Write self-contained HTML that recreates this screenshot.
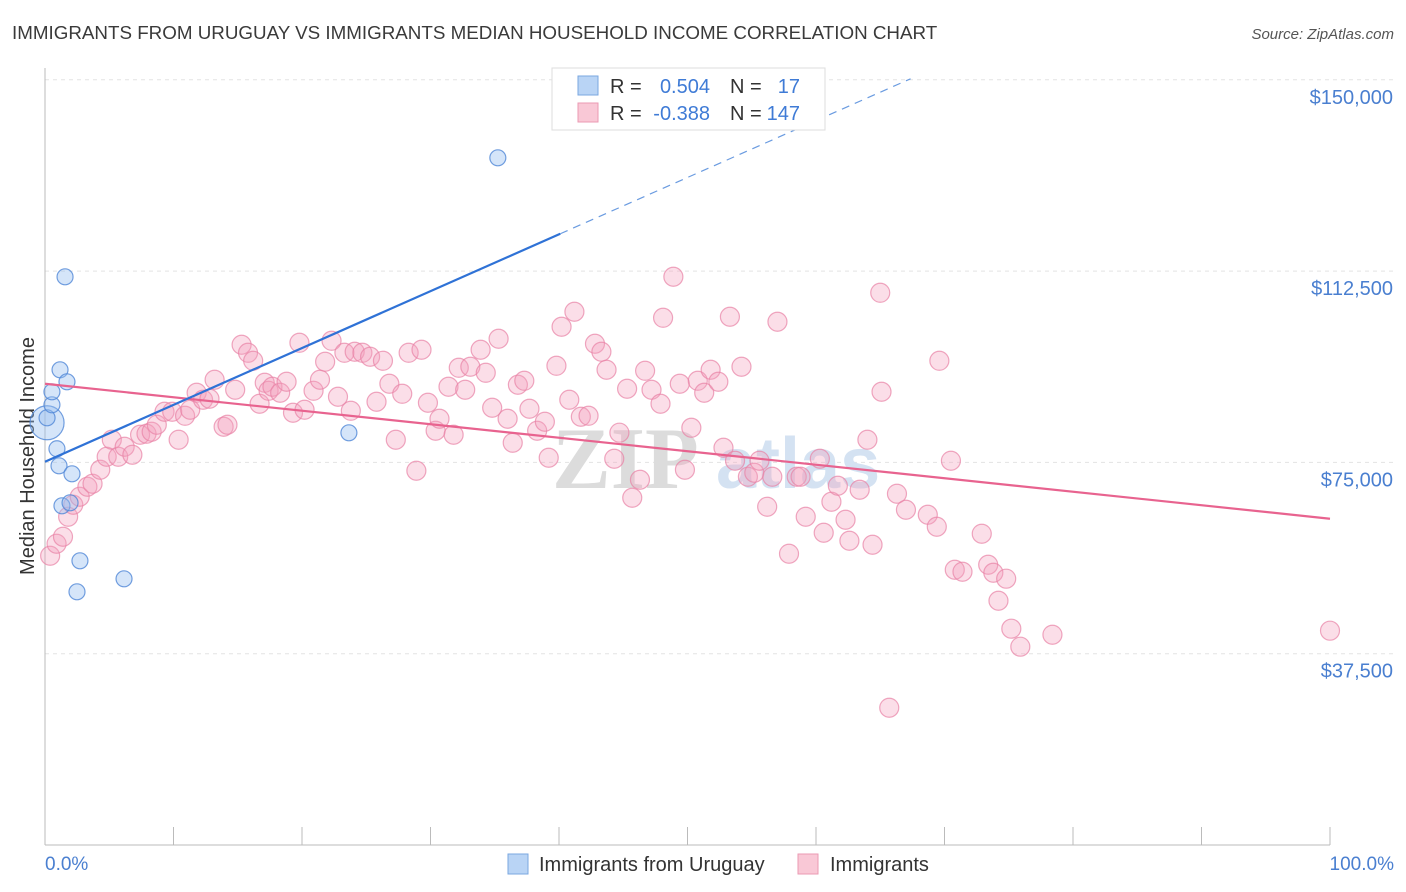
<!DOCTYPE html>
<html><head><meta charset="utf-8"><style>
body{margin:0;background:#fff;font-family:"Liberation Sans",sans-serif}
svg{display:block}
</style></head><body>
<svg id="chart" width="1406" height="892" viewBox="0 0 1406 892">
<text x="12" y="39" font-size="18.8" fill="#3a3a3a">IMMIGRANTS FROM URUGUAY VS IMMIGRANTS MEDIAN HOUSEHOLD INCOME CORRELATION CHART</text>
<text x="1394" y="39" font-size="15" fill="#555" font-style="italic" text-anchor="end">Source: ZipAtlas.com</text>
<g id="grid"></g>
<g><text x="552" y="488" font-size="88" font-family="Liberation Serif,serif" fill="#dcdcdc" font-weight="bold">ZIP</text><text x="716" y="488" font-size="72" fill="#d4e2f2" font-weight="bold">atlas</text></g>
<line x1="45" y1="68" x2="45" y2="845" stroke="#bbb"/>
<line x1="45" y1="845" x2="1330" y2="845" stroke="#bbb"/>
<g id="xticks"></g>
<g id="ylabels"></g>
<text x="45" y="870" font-size="19" fill="#4a7fd0">0.0%</text>
<text x="1394" y="870" font-size="19" fill="#4a7fd0" text-anchor="end">100.0%</text>
<text transform="translate(34,456) rotate(-90)" font-size="20" fill="#333" text-anchor="middle">Median Household Income</text>
<g id="pink"></g>
<g id="blue"></g>
<g id="lines"></g>
<g>
<rect x="552" y="68" width="273" height="62" fill="#fff" stroke="#ddd"/>
<rect x="578" y="76" width="20" height="19" fill="#b9d4f5" stroke="#7aa7e0"/>
<rect x="578" y="103" width="20" height="19" fill="#f9c8d6" stroke="#eb9ab3"/>
<text x="610" y="93" font-size="20" fill="#333">R =</text><text x="710" y="93" font-size="20" fill="#3f7bd6" text-anchor="end">0.504</text>
<text x="730" y="93" font-size="20" fill="#333">N =</text><text x="800" y="93" font-size="20" fill="#3f7bd6" text-anchor="end">17</text>
<text x="610" y="120" font-size="20" fill="#333">R =</text><text x="710" y="120" font-size="20" fill="#3f7bd6" text-anchor="end">-0.388</text>
<text x="730" y="120" font-size="20" fill="#333">N =</text><text x="800" y="120" font-size="20" fill="#3f7bd6" text-anchor="end">147</text>
</g>
<g>
<rect x="508" y="854" width="20" height="20" fill="#b9d4f5" stroke="#7aa7e0"/>
<text x="539" y="871" font-size="20" fill="#333">Immigrants from Uruguay</text>
<rect x="798" y="854" width="20" height="20" fill="#f9c8d6" stroke="#eb9ab3"/>
<text x="830" y="871" font-size="20" fill="#333">Immigrants</text>
</g>
</svg>
<script>
const yTicks=[37500,75000,112500,150000];
const yTickLabels=["$37,500","$75,000","$112,500","$150,000"];
const xTickValues=[0,10,20,30,40,50,60,70,80,90,100];
const blueX=[0.16,0.16,0.54,0.54,1.17,1.71,1.56,0.93,1.09,2.10,1.32,1.95,2.72,2.49,6.15,23.65,35.24];
const blueY=[82770,83740,86290,88840,93150,90800,111380,77670,74330,72760,66490,67080,55710,49630,52180,80800,134710];
const blueR=[17,8,8,8,8,8,8,8,8,8,8,8,8,8,8,8,8];
const pinkX=[0.4,0.9,1.4,1.8,2.2,2.7,3.3,3.7,4.3,4.8,5.2,5.7,6.2,6.8,7.4,7.9,8.3,8.7,9.3,9.9,10.4,10.9,11.3,11.8,12.3,12.8,13.2,13.9,14.2,14.8,15.3,15.8,16.2,16.7,17.1,17.4,17.7,18.3,18.8,19.3,19.8,20.2,20.9,21.4,21.8,22.3,22.8,23.3,23.8,24.1,24.7,25.3,25.8,26.3,26.8,27.3,27.8,28.3,28.9,29.3,29.8,30.4,30.7,31.4,31.8,32.2,32.7,33.1,33.9,34.3,34.8,35.3,36.0,36.4,36.8,37.3,37.7,38.3,38.9,39.2,39.8,40.2,40.8,41.2,41.7,42.3,42.8,43.3,43.7,44.3,44.7,45.3,45.7,46.3,46.7,47.2,47.9,48.1,48.9,49.4,49.8,50.3,50.8,51.3,51.8,52.4,52.8,53.3,53.7,54.2,54.7,55.2,55.6,56.2,56.6,57.0,57.9,58.5,58.8,59.2,60.3,60.6,61.2,61.7,62.3,62.6,63.4,64.0,64.4,65.0,65.1,65.7,66.3,67.0,68.7,69.4,69.6,70.5,70.8,71.4,72.9,73.4,73.8,74.2,74.8,75.2,75.9,78.4,100.0];
const pinkY=[56700,59060,60430,64350,66700,68270,70230,70820,73560,76110,79440,76110,78070,76500,80420,80620,81010,82380,84930,84930,79440,84140,85320,88650,87280,87480,91200,81990,82380,89240,98060,96490,94920,86500,90610,89040,89830,88650,90810,84730,98450,85320,89040,91200,94730,98840,87870,96490,85120,96690,96490,95710,86890,94920,90420,79440,88450,96490,73360,97080,86690,81210,83560,89830,80420,93550,89240,93750,97080,92570,85710,99240,83560,78850,90220,91000,85520,81210,82970,75910,93940,101590,87280,104530,83950,84140,98260,96690,93160,75720,80820,89440,68070,71600,92960,89240,86500,103350,111390,90420,73560,81790,91000,88650,93160,90810,77870,103550,75330,93750,72190,72970,75330,66310,72190,102570,57100,72190,72190,64350,75720,61210,67290,70420,63760,59640,69640,79440,58860,108250,88850,26910,68860,65720,64740,62390,94920,75330,53960,53570,61020,54940,53370,47880,52200,42400,38870,41220,42010];
const pinkTrend=[90420,63960];
const blueTrend=[75130,119820,40.1];

const NS="http://www.w3.org/2000/svg";
const xs=v=>45+v*12.85;
const ys=v=>845-v*(191.3/37500);
function mk(tag,attrs,parent){const e=document.createElementNS(NS,tag);for(const k in attrs)e.setAttribute(k,attrs[k]);parent.appendChild(e);return e;}
const grid=document.getElementById('grid'),yl=document.getElementById('ylabels'),xt=document.getElementById('xticks');
yTicks.forEach((t,i)=>{
  const g=mk('line',{x1:45,x2:1394,y1:ys(t),y2:ys(t),stroke:'#e3e3e3','stroke-dasharray':'4,4'},grid);
  
  
  const tx=mk('text',{x:1393,y:ys(t)+24,'font-size':20,fill:'#4a7fd0','text-anchor':'end'},yl);
  tx.textContent=yTickLabels[i];
  
  
});
xTickValues.forEach(v=>{
  const l=mk('line',{x1:xs(v),x2:xs(v),y1:827,y2:845,stroke:'#bbb'},xt);
  
  
});
const pg=document.getElementById('pink');
pinkX.forEach((x,i)=>{
  const c=mk('circle',{cx:xs(x),cy:ys(pinkY[i]),r:9.5,fill:'rgba(244,160,188,0.35)',stroke:'rgba(232,130,165,0.7)','stroke-width':1.2},pg);
  
  
});
const bg=document.getElementById('blue');
blueX.forEach((x,i)=>{
  const c=mk('circle',{cx:xs(x),cy:ys(blueY[i]),r:blueR[i],fill:'rgba(150,190,240,0.4)',stroke:'rgba(80,135,215,0.8)','stroke-width':1.2},bg);
  
  
});
const lg=document.getElementById('lines');
const pl=mk('line',{x1:xs(0),y1:ys(pinkTrend[0]),x2:xs(100),y2:ys(pinkTrend[1]),stroke:'#e8638f','stroke-width':2.2},lg);


const slope=(blueTrend[1]-blueTrend[0])/blueTrend[2];
const xEnd=(150200-blueTrend[0])/slope;
const bl=mk('line',{x1:xs(0),y1:ys(blueTrend[0]),x2:xs(blueTrend[2]),y2:ys(blueTrend[1]),stroke:'#2f72d6','stroke-width':2.2},lg);


const bd=mk('line',{x1:xs(blueTrend[2]),y1:ys(blueTrend[1]),x2:xs(xEnd),y2:ys(blueTrend[0]+slope*xEnd),stroke:'#6a9be0','stroke-width':1.2,'stroke-dasharray':'8,6'},lg);


</script>
</body></html>
